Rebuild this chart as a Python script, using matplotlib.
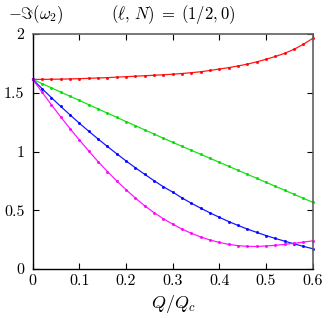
import numpy as np
import matplotlib
matplotlib.use("Agg")
import matplotlib.pyplot as plt

plt.rcParams['mathtext.fontset'] = 'cm'
plt.rcParams['font.family'] = 'serif'
plt.rcParams['font.serif'] = ['cmr10', 'DejaVu Serif']
plt.rcParams['axes.formatter.use_mathtext'] = True

# Q/Qc sample points (step 0.02)
q = [0.00, 0.02, 0.04, 0.06, 0.08, 0.10, 0.12, 0.14, 0.16, 0.18, 0.20,
     0.22, 0.24, 0.26, 0.28, 0.30, 0.32, 0.34, 0.36, 0.38, 0.40,
     0.42, 0.44, 0.46, 0.48, 0.50, 0.52, 0.54, 0.56, 0.58, 0.60]

red = [1.614, 1.614, 1.615, 1.616, 1.618, 1.620, 1.623, 1.626, 1.629, 1.633, 1.637,
       1.641, 1.645, 1.649, 1.653, 1.658, 1.664, 1.671, 1.679, 1.690, 1.702,
       1.714, 1.728, 1.744, 1.763, 1.785, 1.809, 1.836, 1.870, 1.913, 1.963]

green = [1.614, 1.578, 1.542, 1.506, 1.470, 1.435, 1.399, 1.363, 1.327, 1.291, 1.255,
         1.220, 1.184, 1.149, 1.113, 1.078, 1.044, 1.010, 0.976, 0.942, 0.908,
         0.874, 0.840, 0.806, 0.772, 0.738, 0.704, 0.670, 0.636, 0.602, 0.568]

blue = [1.614, 1.535, 1.459, 1.384, 1.312, 1.241, 1.173, 1.107, 1.043, 0.981, 0.920,
        0.862, 0.806, 0.752, 0.700, 0.655, 0.605, 0.560, 0.518, 0.478, 0.440,
        0.404, 0.371, 0.340, 0.312, 0.285, 0.260, 0.237, 0.214, 0.193, 0.173]

magenta = [1.614, 1.505, 1.398, 1.295, 1.195, 1.098, 1.005, 0.915, 0.830, 0.750, 0.675,
           0.604, 0.538, 0.480, 0.428, 0.382, 0.340, 0.304, 0.273, 0.247, 0.226,
           0.210, 0.199, 0.193, 0.192, 0.196, 0.202, 0.210, 0.219, 0.229, 0.240]

xticks = [0, 0.1, 0.2, 0.3, 0.4, 0.5, 0.6]
xticklabels = ['0', '0.1', '0.2', '0.3', '0.4', '0.5', '0.6']
yticks = [0, 0.5, 1, 1.5, 2]
yticklabels = ['0', '0.5', '1', '1.5', '2']

fig = plt.figure(figsize=(3.29, 3.18), dpi=100)
ax = fig.add_axes([0.0994, 0.154, 0.8511, 0.739])

for y, c in [(red, '#ff0000'), (green, '#00dd00'), (blue, '#0000ff'), (magenta, '#ff00ff')]:
    ax.plot(q, y, color=c, lw=0.9, marker='o', ms=2.2, mew=0, alpha=0.9, clip_on=False)

ax.set_xlim(0, 0.6)
ax.set_ylim(0, 2)
ax.set_xticks(xticks)
ax.set_xticklabels(xticklabels)
ax.set_yticks(yticks)
ax.set_yticklabels(yticklabels)
ax.tick_params(direction='in', length=4, width=0.8, top=True, right=True,
               labelsize=11.5)
ax.tick_params(axis='x', pad=4)
ax.tick_params(axis='y', pad=6)
for s in ['left', 'bottom']:
    ax.spines[s].set_color('black')
    ax.spines[s].set_linewidth(1.0)
for s in ['top', 'right']:
    ax.spines[s].set_color('#606060')
    ax.spines[s].set_linewidth(1.2)

fig.text(0.527, 0.01, r'$Q/Q_c$', fontsize=13, va='bottom', ha='center')
fig.text(0.025, 0.955, r'$-\Im(\omega_2)$', fontsize=12, va='center', ha='left')
fig.text(0.527, 0.955, r'$(\ell,\, N)\;=\;(1/2, 0)$', fontsize=12, va='center', ha='center')

fig.savefig('out.png', dpi=100)
